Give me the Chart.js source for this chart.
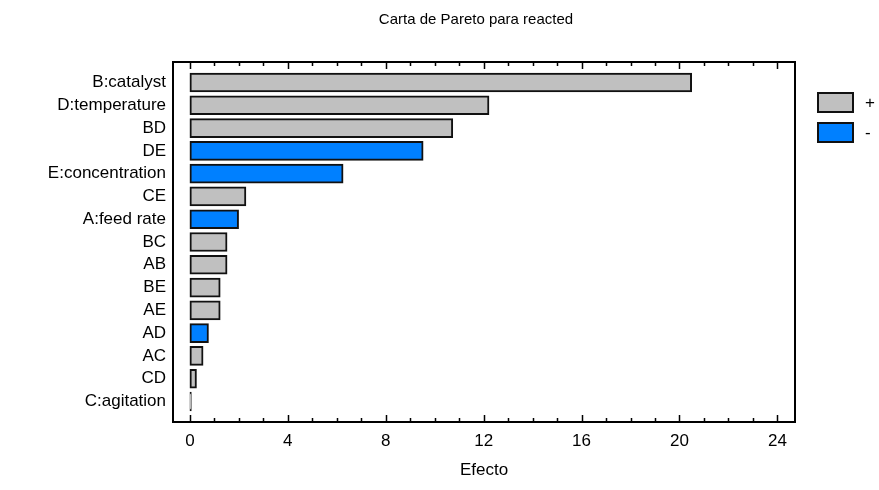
<!DOCTYPE html>
<html><head><meta charset="utf-8">
<script src="https://cdn.jsdelivr.net/npm/chart.js@4/dist/chart.umd.min.js"></script>
<style>html,body{margin:0;padding:0;background:#fff}#wrap{width:879px;height:490px}</style>
</head><body><div id="wrap"><canvas id="c" width="879" height="490"></canvas></div>
<script>
const categories = ['B:catalyst','D:temperature','BD','DE','E:concentration','CE','A:feed rate','BC','AB','BE','AE','AD','AC','CD','C:agitation'];
const effects = [20.5, 12.22, 10.74, 9.53, 6.26, 2.29, 1.99, 1.52, 1.52, 1.24, 1.24, 0.76, 0.54, 0.27, 0.06];
const signs = ['+','+','+','-','-','+','-','+','+','+','+','-','+','+','+'];
const xTicks = [0, 4, 8, 12, 16, 20, 24];
const legendLabels = ['+', '-'];
const chartTitle = 'Carta de Pareto para reacted';
const xTitle = 'Efecto';

const POS = '#c0c0c0', NEG = '#0080ff';
const FONT = "'Liberation Sans', Arial, sans-serif";

const framePlugin = {
  id: 'frame',
  afterDraw(chart) {
    const ctx = chart.ctx, a = chart.chartArea, xs = chart.scales.x;
    ctx.save();
    ctx.strokeStyle = '#000';
    ctx.lineWidth = 2;
    ctx.strokeRect(a.left, a.top, a.right - a.left, a.bottom - a.top);
    ctx.lineWidth = 1.5;
    for (let v = xTicks[0]; v <= xTicks[xTicks.length - 1]; v++) {
      const px = Math.round(xs.getPixelForValue(v)) + 0.5;
      const len = xTicks.includes(v) ? 7 : 4;
      ctx.beginPath();
      ctx.moveTo(px, a.top); ctx.lineTo(px, a.top + len);
      ctx.moveTo(px, a.bottom); ctx.lineTo(px, a.bottom - len);
      ctx.stroke();
    }
    // title
    ctx.fillStyle = '#000';
    ctx.font = '15px ' + FONT;
    ctx.textAlign = 'center';
    ctx.textBaseline = 'middle';
    ctx.fillText(chartTitle, 476, 20);
    // legend
    const colors = [POS, NEG];
    ctx.font = '17px ' + FONT;
    ctx.textAlign = 'left';
    legendLabels.forEach((lab, i) => {
      const y = 93 + i * 30;
      ctx.fillStyle = colors[i];
      ctx.fillRect(818, y, 35, 19);
      ctx.lineWidth = 2;
      ctx.strokeStyle = '#111';
      ctx.strokeRect(818, y, 35, 19);
      ctx.fillStyle = '#000';
      ctx.fillText(lab, 865, y + 10);
    });
    ctx.restore();
  }
};

new Chart(document.getElementById('c'), {
  type: 'bar',
  data: {
    datasets: [{
      data: effects.map((v, i) => ({ x: v, y: i })),
      backgroundColor: signs.map(s => s === '+' ? POS : NEG),
      borderColor: '#111',
      borderWidth: 2,
      borderSkipped: false,
      barThickness: 19
    }]
  },
  options: {
    indexAxis: 'y',
    responsive: false,
    animation: false,
    devicePixelRatio: 1,
    layout: { padding: { top: 62, right: 84, left: 0, bottom: 0 } },
    plugins: { legend: { display: false }, title: { display: false }, tooltip: { enabled: false } },
    scales: {
      y: {
        type: 'linear',
        reverse: true,
        offset: false,
        min: -0.9,
        max: 14.9,
        afterBuildTicks: s => { s.ticks = categories.map((_, i) => ({ value: i })); },
        afterFit: s => { s.width = 173; },
        ticks: { callback: v => categories[v], color: '#000', font: { family: FONT, size: 17 }, padding: 7, autoSkip: false },
        grid: { display: false, drawTicks: false },
        border: { display: false }
      },
      x: {
        type: 'linear',
        min: -0.69,
        max: 24.72,
        afterBuildTicks: s => { s.ticks = xTicks.map(v => ({ value: v })); },
        afterFit: s => { s.height = 68; },
        ticks: { color: '#000', font: { family: FONT, size: 17 }, padding: 9, maxRotation: 0 },
        grid: { display: false, drawTicks: false },
        border: { display: false },
        title: { display: true, text: xTitle, color: '#000', font: { family: FONT, size: 17 }, padding: { top: 0, bottom: 9 } }
      }
    }
  },
  plugins: [framePlugin]
});
</script>
</body></html>
